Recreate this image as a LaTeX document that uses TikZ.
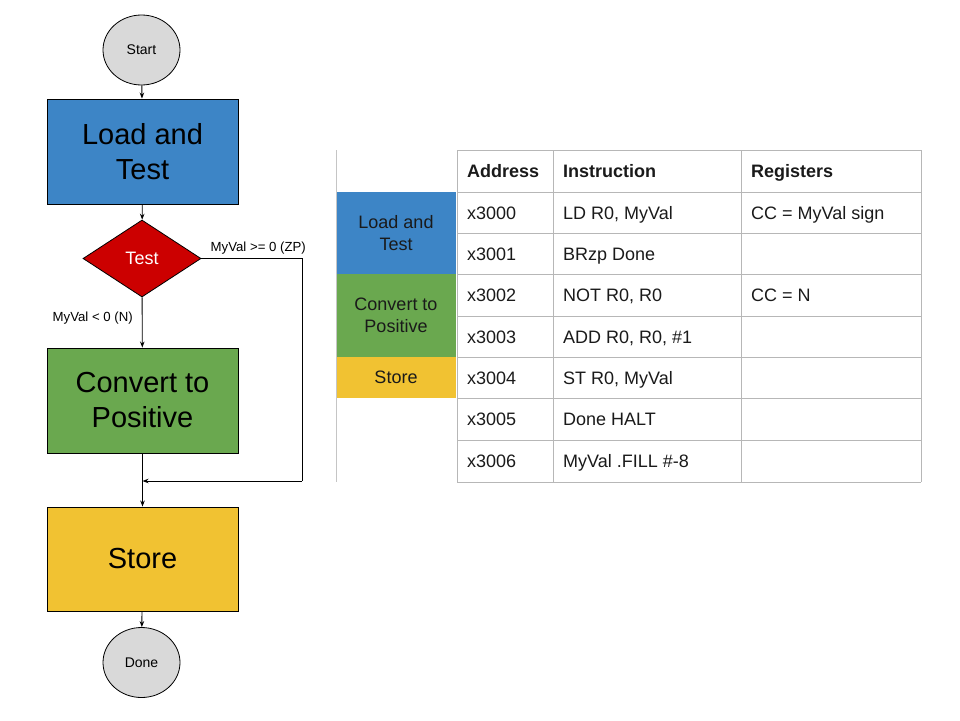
\documentclass[tikz,border=0pt]{standalone}
\usepackage{fontspec}
\setmainfont{Liberation Sans}
\usetikzlibrary{shapes.geometric,arrows.meta}
\definecolor{cblue}{HTML}{3D85C6}
\definecolor{cgreen}{HTML}{6AA84F}
\definecolor{cyellow}{HTML}{F1C232}
\definecolor{cred}{HTML}{CC0000}
\definecolor{cgray}{HTML}{D9D9D9}
\definecolor{gridc}{HTML}{B7B7B7}
\definecolor{txt}{HTML}{1A1A1A}
\tikzset{
  flowbox/.style={draw=black, line width=0.9pt, minimum width=191pt, minimum height=105pt, inner sep=0pt, align=center, font=\fontsize{29}{35}\selectfont},
  term/.style={ellipse, draw=black, line width=0.8pt, fill=cgray, minimum width=77pt, minimum height=70pt, inner sep=0pt, font=\fontsize{14}{16}\selectfont},
  conn/.style={line width=0.9pt, -{Stealth[length=6pt,width=4.5pt]}},
  plainline/.style={line width=0.9pt},
  brlabel/.style={font=\fontsize{13.2}{15}\selectfont, inner sep=0pt},
  cellbox/.style={minimum width=120pt, inner sep=0pt, align=center, font=\fontsize{18}{22}\selectfont, text=txt},
  celltext/.style={anchor=base west, inner sep=0pt, font=\fontsize{18}{22}\selectfont, text=txt},
  headtext/.style={anchor=base west, inner sep=0pt, font=\fontsize{18}{22}\selectfont\bfseries, text=txt},
  gridline/.style={draw=gridc, line width=0.9pt}
}
\begin{document}
\begin{tikzpicture}[x=1pt,y=-1pt]
\useasboundingbox (0,0) rectangle (960,720);
% flowchart
\node[term] (start) at (141.5,50) {Start};
\node[flowbox, fill=cblue] (load) at (142.5,151.5) {Load and\\Test};
\node[diamond, draw=black, line width=0.8pt, fill=cred, aspect=1.53, minimum width=118pt, minimum height=77pt, inner sep=0pt, text=white, font=\fontsize{18}{20}\selectfont] (test) at (142,258.5) {Test};
\node[flowbox, fill=cgreen] (conv) at (142.5,400.5) {Convert to\\Positive};
\node[flowbox, fill=cyellow, minimum height=104pt] (store) at (142.5,559) {Store};
\node[term] (done) at (141.5,662.5) {Done};
\coordinate (r1) at (302,258.5);
\coordinate (r2) at (302,481);
\coordinate (m) at (142.5,481);
\draw[conn] (start) -- (load);
\draw[conn] (load) -- (test);
\draw[conn] (test) -- (conv);
\draw[plainline] (test.east) -- (r1) -- (r2);
\draw[conn] (r2) -- (m);
\draw[conn] (conv) -- (store);
\draw[conn] (store) -- (done);
\node[brlabel, anchor=base west] (lzp) at (210.5,251) {MyVal >= 0 (ZP)};
\node[brlabel, anchor=base west] (ln) at (52.5,321) {MyVal < 0 (N)};
% table
\node[cellbox, fill=cblue, minimum height=82pt] (tl) at (396,233) {Load and\\Test};
\node[cellbox, fill=cgreen, minimum height=83pt] (tc) at (396,315.5) {Convert to\\Positive};
\node[cellbox, fill=cyellow, minimum height=41pt] (ts) at (396,377.5) {Store};
\draw[draw=gridc!80, line width=0.9pt] (336,150) -- (336,482);
\foreach \y in {150,192,233,274,316,357,398,440,482}
  \draw[gridline] (457,\y) -- (921,\y);
\foreach \x in {457,553,741,921}
  \draw[gridline] (\x,150) -- (\x,482);
\node[headtext] (h1) at (467,177.5) {Address};
\node[headtext] (h2) at (563,177.5) {Instruction};
\node[headtext] (h3) at (751,177.5) {Registers};
\node[celltext] (a0) at (467,219) {x3000};
\node[celltext] (a1) at (467,260) {x3001};
\node[celltext] (a2) at (467,301.5) {x3002};
\node[celltext] (a3) at (467,343) {x3003};
\node[celltext] (a4) at (467,384) {x3004};
\node[celltext] (a5) at (467,425.5) {x3005};
\node[celltext] (a6) at (467,467.5) {x3006};
\node[celltext] (i0) at (563,219) {LD R0, MyVal};
\node[celltext] (i1) at (563,260) {BRzp Done};
\node[celltext] (i2) at (563,301.5) {NOT R0, R0};
\node[celltext] (i3) at (563,343) {ADD R0, R0, \#1};
\node[celltext] (i4) at (563,384) {ST R0, MyVal};
\node[celltext] (i5) at (563,425.5) {Done HALT};
\node[celltext] (i6) at (563,467.5) {MyVal .FILL \#-8};
\node[celltext] (g0) at (751,219) {CC = MyVal sign};
\node[celltext] (g2) at (751,301.5) {CC = N};
\end{tikzpicture}
\end{document}
